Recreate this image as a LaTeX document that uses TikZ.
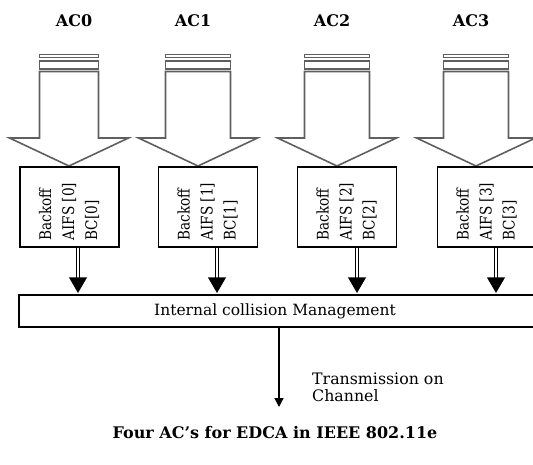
\documentclass[tikz,border=0pt]{standalone}
\usepackage{fontspec}
\setmainfont{DejaVu Serif}
\usetikzlibrary{arrows.meta}
\definecolor{arrgray}{RGB}{95,95,95}
\begin{document}
\begin{tikzpicture}[x=1pt,y=-1pt,
  aclabel/.style={font=\bfseries\fontsize{16}{18}\selectfont, inner sep=0pt},
  acbox/.style={draw=black, line width=1.1pt, minimum width=99pt, minimum height=80pt, inner sep=0pt},
  boxtext/.style={rotate=90, anchor=west, inner sep=0pt, font=\fontsize{16}{23}\selectfont},
  bigarrow/.style={draw=arrgray, line width=1.6pt, fill=white, line join=miter},
  dbl/.style={double=white, draw=black, double distance=2.6pt, line width=1.1pt},
  headtri/.style={fill=black},
  icmbox/.style={draw=black, line width=1.1pt, minimum width=521pt, minimum height=32pt, inner sep=0pt},
  plain/.style={font=\fontsize{15.5}{17}\selectfont, inner sep=0pt}
]
\useasboundingbox (0,0) rectangle (533,465);
\clip (0,0) rectangle (533,465);

% AC labels
\node[aclabel] (l0) at (74,21) {AC0};
\node[aclabel] (l1) at (193,21) {AC1};
\node[aclabel] (l2) at (332,21) {AC2};
\node[aclabel] (l3) at (471,21) {AC3};

% big hollow arrows: center, shaft half width
\foreach \c/\h in {69/29.5, 198/32.5, 337/32.5, 476/32.5}{
  \draw[bigarrow] (\c-\h,71.5) -- (\c-\h,138) -- (\c-59.5,138) -- (\c,166)
     -- (\c+59.5,138) -- (\c+\h,138) -- (\c+\h,71.5) -- cycle;
  \draw[bigarrow, line width=1.1pt] (\c-\h,61) rectangle (\c+\h,69);
  \draw[bigarrow, line width=0.9pt] (\c-\h,54) rectangle (\c+\h,57.5);
}

% AC boxes
\node[acbox] (b0) at (69.5,207) {};
\node[acbox] (b1) at (208,207) {};
\node[acbox] (b2) at (347,207) {};
\node[acbox] (b3) at (487,207) {};

\foreach \i in {0,1,2,3}{
  \node[boxtext] (t\i) at ([yshift=7pt]b\i.south) {\scalebox{0.85}[1]{\begin{tabular}{@{}l@{}}Backoff\\AIFS [\i]\\BC[\i]\end{tabular}}};
}

% internal collision management
\node[icmbox] (icm) at (279.5,311) {};
\node[plain] (icmt) at (275,311) {Internal collision Management};

% double arrows
\foreach \i/\x in {0/78, 1/217, 2/357, 3/496}{
  \coordinate (h\i) at (\x,293);
  \draw[dbl] (b\i.south -| h\i) -- ([yshift=14pt]h\i);
  \fill[headtri] ([xshift=-9pt,yshift=15.5pt]h\i) -- ([xshift=9pt,yshift=15.5pt]h\i) -- (h\i) -- cycle;
}

% transmission
\coordinate (tend) at (279,407);
\draw[line width=1.3pt, -{Triangle[width=9pt,length=9pt]}] (icm.south -| tend) -- (tend);
\node[plain, anchor=north west, align=left, font=\fontsize{15.8}{16.5}\selectfont] (tx) at (312,373) {Transmission on\\Channel};

% caption
\node[aclabel, font=\bfseries\fontsize{16}{18}\selectfont] (cap) at (275,433) {Four AC’s for EDCA in IEEE 802.11e};
\end{tikzpicture}
\end{document}
